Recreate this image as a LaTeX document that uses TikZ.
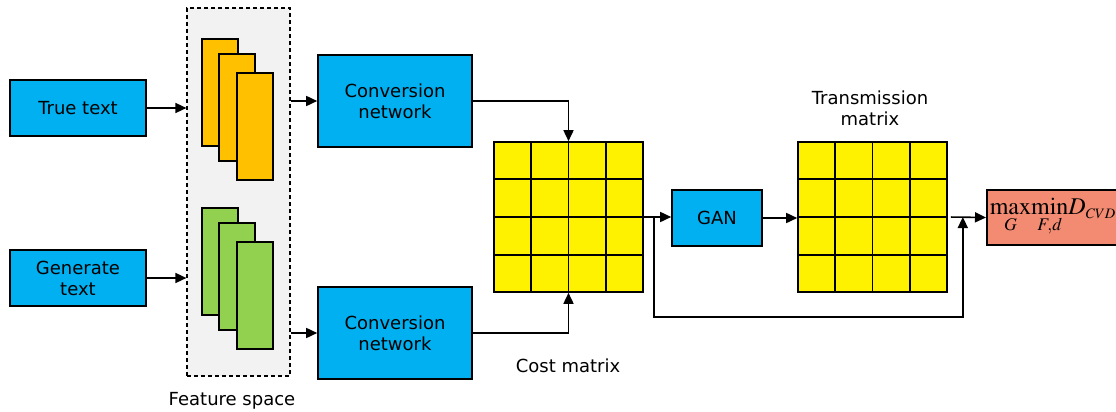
\documentclass[tikz,border=0pt]{standalone}
\usepackage{mathptmx}
\usepackage[no-math]{fontspec}
\setmainfont{DejaVu Sans}
\usetikzlibrary{calc,positioning}
\usetikzlibrary{arrows.meta}
\tikzset{>={Triangle[length=11pt,width=10pt]}}
\definecolor{boxblue}{HTML}{00B0F0}
\definecolor{featorange}{HTML}{FFC000}
\definecolor{featgreen}{HTML}{92D050}
\definecolor{objred}{HTML}{F28B71}
\definecolor{fsgray}{HTML}{F2F2F2}
\tikzset{
  blk/.style={draw,fill=boxblue,align=center,inner sep=0pt},
  mat/.style={draw,fill=yellow,minimum width=149pt,minimum height=150pt,inner sep=0pt},
}
\newcommand*{\cells}[1]
  {\foreach \t in {0.25,0.5,0.75} {
     \draw ($(#1.north west)!\t!(#1.north east)$) -- ($(#1.south west)!\t!(#1.south east)$);
     \draw ($(#1.north west)!\t!(#1.south west)$) -- ($(#1.north east)!\t!(#1.south east)$);}}
\newcommand*{\featstack}[3]
  {\foreach \dx/\dy in {0/0,17/15,35/34}
     {\draw[fill=#3] (#1+\dx,#2+\dy) rectangle +(36,107);}}

\begin{document}
\begin{tikzpicture}[x=1pt,y=-1pt,line width=1.6pt,font=\fontsize{18}{21}\selectfont]
\useasboundingbox (0,0) rectangle (1116,412);
\node[blk,minimum width=136pt,minimum height=56pt] (true) at (78,108) {True text};
\node[blk,minimum width=136pt,minimum height=56pt] (gen) at (78,278) {Generate\\text};

% feature space
\node[draw,line width=1.2pt,dash pattern=on 4pt off 3pt,fill=fsgray,minimum width=103pt,
  minimum height=368pt,inner sep=0pt] (fs) at (238.5,192) {};
\featstack{202}{39}{featorange}
\featstack{202}{208}{featgreen}
\node (fslabel) at (232,401) {Feature space};

\node[blk,minimum width=154pt,minimum height=92pt] (conv1) at (395,101) {Conversion\\network};
\node[blk,minimum width=154pt,minimum height=92pt] (conv2) at (395,333) {Conversion\\network};

\node[mat] (cost) at (568.5,217) {};
\cells{cost}
\node (costlabel) at (568,366) {Cost matrix};

\node[blk,minimum width=90pt,minimum height=56pt] (gan) at (717,218) {GAN};

\node[mat] (trans) at (872.5,217) {};
\cells{trans}
\node[align=center] (translabel) at (870,108) {Transmission\\matrix};

\node[draw,fill=objred,anchor=west,minimum height=55pt,inner xsep=3pt,inner ysep=0pt,
  font=\fontsize{24}{28}\selectfont] (obj) at (986,217.5)
  {$\displaystyle\max_{G}\!\min_{F,d}\!D_{\scriptscriptstyle CVD}$};

\draw[->] (true) -- (true -| fs.west);
\draw[->] (gen) -- (gen -| fs.west);
\draw[->] (conv1 -| fs.east) -- (conv1);
\draw[->] (conv2 -| fs.east) -- (conv2);
\draw[->] (conv1.east) -| (cost.north);
\draw[->] (conv2.east) -| (cost.south);
\draw[->] (cost.east) -- (cost.east -| gan.west);
\draw[->] (gan.east) -- (gan.east -| trans.west);
\draw[->,shorten <=3pt] (trans.east) -- (obj.west);
\coordinate (split) at ($(cost.east)+(10,0)$);
\coordinate (join) at ($(trans.east)+(15,0)$);
\draw[->] (split) -- ++(0,100) -| (join);
\end{tikzpicture}
\end{document}
